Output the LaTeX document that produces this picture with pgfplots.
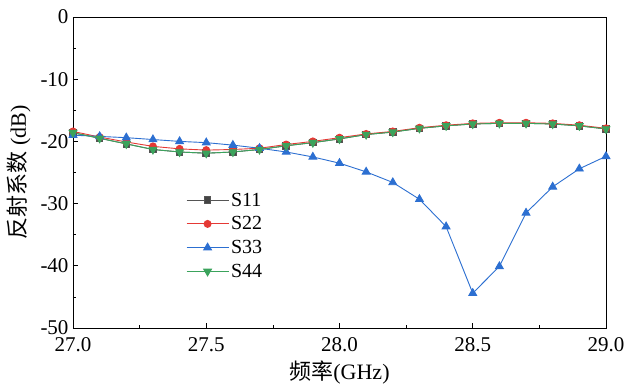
\documentclass[border=0pt]{standalone}
\usepackage{pgfplots}
\pgfplotsset{compat=1.18}
\usepackage{fontspec}
\setmainfont{Liberation Serif}
\newfontfamily\cjk{Noto Sans CJK SC}
\definecolor{cS11}{HTML}{555555}
\definecolor{cS22}{HTML}{E53935}
\definecolor{cS33}{HTML}{2C6FD1}
\definecolor{cS44}{HTML}{3BA35C}
\begin{document}
\begin{tikzpicture}
\begin{axis}[
  scale only axis,
  width=533pt, height=311pt,
  xmin=27, xmax=29, ymin=-50, ymax=0,
  xtick={27,27.5,28,28.5,29},
  xticklabels={27.0,27.5,28.0,28.5,29.0},
  minor x tick num=1,
  ytick={-50,-40,-30,-20,-10,0},
  yticklabels={-50,-40,-30,-20,-10,0},
  minor y tick num=1,
  xtick pos=left, ytick pos=left,
  tick align=inside,
  major tick length=5pt, minor tick length=3pt,
  tick style={black, line width=0.6pt},
  axis line style={line width=0.8pt},
  ticklabel style={font=\fontsize{21}{24}\selectfont, inner sep=0.5pt},
  xticklabel style={yshift=-8.5pt},
  yticklabel style={xshift=-3.8pt},
  label style={font=\fontsize{22}{25}\selectfont},
  xlabel={{\cjk 频率}(GHz)},
  ylabel={{\cjk 反射系数} (dB)},
  xlabel style={yshift=-5pt},
  ylabel style={yshift=6pt},
  legend style={at={(rel axis cs:0.21,0.445)}, anchor=north west, draw=none, fill=none,
    font=\fontsize{20}{23}\selectfont, row sep=5pt, inner sep=1pt},
  legend cell align=left,
  legend image code/.code={\draw[mark repeat=2,mark phase=2] plot coordinates {(0pt,0pt)(21pt,0pt)(42pt,0pt)};},
  every axis plot/.append style={line width=0.9pt},
]
\addplot[color=cS11, mark=square*, mark size=3.3pt, mark options={fill=cS11!80!black}] coordinates {
(27.0,-18.6) (27.1,-19.5) (27.2,-20.4) (27.3,-21.3) (27.4,-21.7) (27.5,-21.9) (27.6,-21.7) (27.7,-21.3) (27.8,-20.7) (27.9,-20.2) (28.0,-19.6)
(28.1,-18.9) (28.2,-18.5) (28.3,-17.9) (28.4,-17.5) (28.5,-17.2) (28.6,-17.1) (28.7,-17.1) (28.8,-17.2) (28.9,-17.5) (29.0,-18.0)};
\addlegendentry{S11}
\addplot[color=cS22, mark=*, mark size=3.5pt] coordinates {
(27.0,-18.4) (27.1,-19.3) (27.2,-20.1) (27.3,-20.8) (27.4,-21.2) (27.5,-21.4) (27.6,-21.3) (27.7,-21.1) (27.8,-20.5) (27.9,-20.0) (28.0,-19.4)
(28.1,-18.8) (28.2,-18.4) (28.3,-17.8) (28.4,-17.4) (28.5,-17.1) (28.6,-17.0) (28.7,-17.0) (28.8,-17.1) (28.9,-17.4) (29.0,-17.9)};
\addlegendentry{S22}
\addplot[color=cS33, mark=triangle*, mark size=4.5pt] coordinates {
(27.0,-19.0) (27.1,-19.2) (27.2,-19.4) (27.3,-19.7) (27.4,-20.0) (27.5,-20.2) (27.6,-20.6) (27.7,-21.1) (27.8,-21.7) (27.9,-22.5) (28.0,-23.5)
(28.1,-24.9) (28.2,-26.6) (28.3,-29.3) (28.4,-33.7) (28.5,-44.4) (28.6,-40.1) (28.7,-31.5) (28.8,-27.3) (28.9,-24.4) (29.0,-22.4)};
\addlegendentry{S33}
\addplot[color=cS44, mark=triangle*, mark size=4.5pt, mark options={rotate=180}] coordinates {
(27.0,-18.6) (27.1,-19.5) (27.2,-20.4) (27.3,-21.3) (27.4,-21.7) (27.5,-21.9) (27.6,-21.7) (27.7,-21.3) (27.8,-20.7) (27.9,-20.2) (28.0,-19.6)
(28.1,-18.9) (28.2,-18.5) (28.3,-17.9) (28.4,-17.5) (28.5,-17.2) (28.6,-17.1) (28.7,-17.1) (28.8,-17.2) (28.9,-17.5) (29.0,-18.0)};
\addlegendentry{S44}
\end{axis}
\path ([shift={(-73pt,-58pt)}]current axis.south west) rectangle ([shift={(21pt,17pt)}]current axis.north east);
\end{tikzpicture}
\end{document}
